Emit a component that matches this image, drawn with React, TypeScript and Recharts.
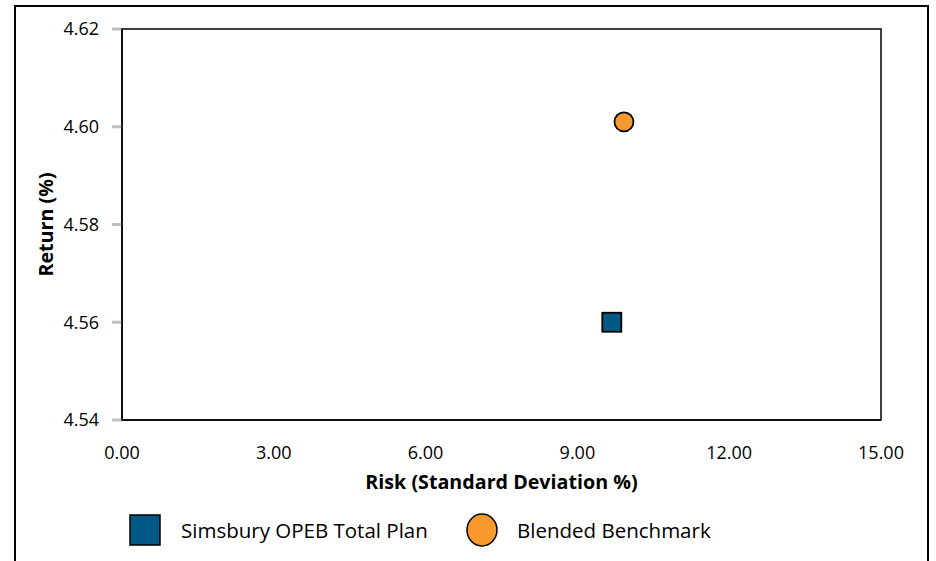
import React from 'react';
import { ScatterChart, Scatter, XAxis, YAxis, Legend } from 'recharts';

const seriesNames = ['Simsbury OPEB Total Plan', 'Blended Benchmark'];
const planPoints = [{ risk: 9.68, ret: 4.56 }];
const benchmarkPoints = [{ risk: 9.92, ret: 4.601 }];
const xTicks = [0, 3, 6, 9, 12, 15];
const yTicks = [4.54, 4.56, 4.58, 4.6, 4.62];

const FONT = '"Open Sans", sans-serif';
const BLUE = '#005a85';
const ORANGE = '#f7992c';

const SquareShape = (p: any) => (
  <rect x={p.cx - 9.5} y={p.cy - 9.5} width={19} height={19} fill={BLUE} stroke="#000" strokeWidth={1.8} />
);
const CircleShape = (p: any) => (
  <circle cx={p.cx} cy={p.cy} r={9.5} fill={ORANGE} stroke="#000" strokeWidth={1.8} />
);

const LegendContent = () => (
  <div style={{ position: 'relative', height: 42, width: 936, fontFamily: FONT, color: '#000' }}>
    <svg width={936} height={42} style={{ position: 'absolute', left: 0, top: 0 }}>
      <rect x={130} y={6} width={30} height={30} fill={BLUE} stroke="#000" strokeWidth={1.5} />
      <text x={181} y={21} dominantBaseline="central" fontFamily={FONT} fontSize={20.5} fill="#000">{seriesNames[0]}</text>
      <ellipse cx={482} cy={21} rx={15} ry={16} fill={ORANGE} stroke="#000" strokeWidth={1.5} />
      <text x={517} y={21} dominantBaseline="central" fontFamily={FONT} fontSize={20.5} fill="#000">{seriesNames[1]}</text>
    </svg>
  </div>
);

export default function App() {
  return (
    <div style={{ position: 'relative', width: 936, height: 561, background: '#fff', overflow: 'hidden' }}>
      <style>{`body{margin:0;}`}</style>
      <div
        style={{
          position: 'absolute',
          left: 14,
          top: 5,
          width: 911,
          height: 570,
          borderLeft: '2px solid #000',
          borderTop: '2px solid #000',
          borderRight: '2px solid #000',
        }}
      />
      <div style={{ position: 'absolute', left: 0, top: 0 }}>
        <ScatterChart width={936} height={561} margin={{ top: 29, right: 55, left: 62, bottom: 10 }}>
          <XAxis
            type="number"
            dataKey="risk"
            domain={[0, 15]}
            ticks={xTicks}
            interval={0}
            tickFormatter={(v: number) => v.toFixed(2)}
            tickLine={false}
            axisLine={{ stroke: '#000', strokeWidth: 1.5 }}
            tick={{ fill: '#000', fontSize: 18, fontFamily: FONT }}
            tickMargin={20}
            height={89}
            label={{
              value: 'Risk (Standard Deviation %)',
              position: 'insideBottom',
              offset: 20,
              style: { fill: '#000', fontSize: 19.7, fontWeight: 700, fontFamily: FONT },
            }}
          />
          <YAxis
            type="number"
            dataKey="ret"
            domain={[4.54, 4.62]}
            ticks={yTicks}
            interval={0}
            tickFormatter={(v: number) => v.toFixed(2)}
            tickLine={{ stroke: '#bfbfbf', strokeWidth: 3 }}
            tickSize={10}
            tickMargin={13}
            axisLine={{ stroke: '#000', strokeWidth: 1.5 }}
            tick={{ fill: '#000', fontSize: 18, fontFamily: FONT }}
            width={60}
            label={(props: any) => {
              const vb = props.viewBox || {};
              const cx = 45;
              const cy = (vb.y ?? 29) + (vb.height ?? 391) / 2;
              return (
                <text
                  x={cx}
                  y={cy}
                  transform={`rotate(-90 ${cx} ${cy})`}
                  textAnchor="middle"
                  dominantBaseline="central"
                  fontFamily={FONT}
                  fontSize={19.7}
                  fontWeight={700}
                  fill="#000"
                >
                  Return (%)
                </text>
              );
            }}
          />
          <Scatter name={seriesNames[0]} data={planPoints} shape={SquareShape} isAnimationActive={false} />
          <Scatter name={seriesNames[1]} data={benchmarkPoints} shape={CircleShape} isAnimationActive={false} />
          <Legend verticalAlign="bottom" align="left" height={42} content={LegendContent} wrapperStyle={{ left: 0, width: 936 }} />
        </ScatterChart>
      </div>
      <svg style={{ position: 'absolute', left: 0, top: 0 }} width={936} height={561} pointerEvents="none">
        <rect x={122} y={29} width={759} height={391} fill="none" stroke="#000" strokeWidth={1.5} />
      </svg>
    </div>
  );
}
